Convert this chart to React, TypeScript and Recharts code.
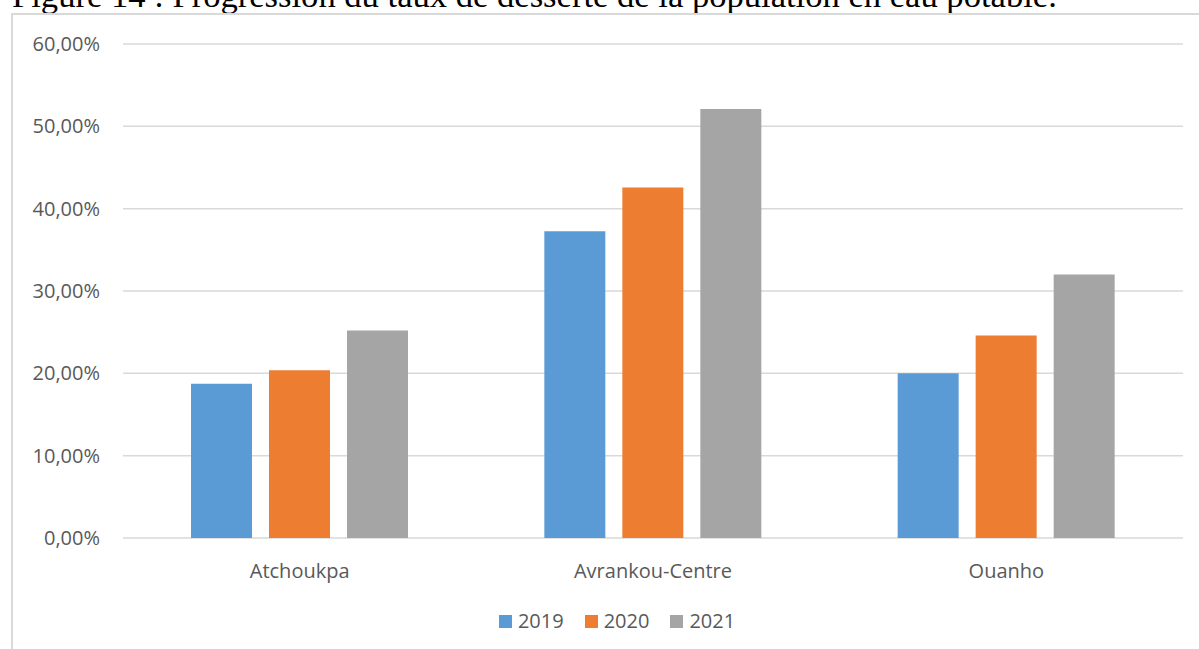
import React from 'react';
import { BarChart, Bar, XAxis, YAxis, CartesianGrid, Legend } from 'recharts';

const categories = ['Atchoukpa', 'Avrankou-Centre', 'Ouanho'];
const values2019 = [18.75, 37.25, 20.0];
const values2020 = [20.37, 42.56, 24.58];
const values2021 = [25.19, 52.11, 32.0];
const yTicks = [0, 10, 20, 30, 40, 50, 60];
const seriesNames = ['2019', '2020', '2021'];
const seriesColors = ['#5B9BD5', '#ED7D31', '#A5A5A5'];
const titleText = 'Figure 14 : Progression du taux de desserte de la population en eau potable.';

const data = categories.map((c, i) => ({
  name: c,
  '2019': values2019[i],
  '2020': values2020[i],
  '2021': values2021[i],
}));

const fmt = (v: number) => `${v.toFixed(2).replace('.', ',')}%`;
const font = "'Open Sans', sans-serif";
const textColor = '#595959';

const LegendContent = () => (
  <div
    style={{
      display: 'flex',
      justifyContent: 'center',
      alignItems: 'center',
      height: 24,
      fontFamily: font,
      fontSize: 20,
      color: textColor,
    }}
  >
    {seriesNames.map((n, i) => (
      <div
        key={n}
        style={{ display: 'flex', alignItems: 'center', marginRight: i < seriesNames.length - 1 ? 21 : 0 }}
      >
        <div style={{ width: 13, height: 13, background: seriesColors[i], marginRight: 6 }} />
        <span style={{ lineHeight: '24px' }}>{n}</span>
      </div>
    ))}
  </div>
);

export default function App() {
  return (
    <div
      style={{
        position: 'fixed',
        left: 0,
        top: 0,
        width: 1199,
        height: 649,
        overflow: 'hidden',
        background: '#ffffff',
      }}
    >
      <svg width={1199} height={20} style={{ position: 'absolute', left: 0, top: 0 }}>
        <text x={12} y={6.5} fontSize={34.6} fontFamily="'Liberation Serif', serif" fill="#000000">
          {titleText}
        </text>
      </svg>
      <div
        style={{
          position: 'absolute',
          left: 11,
          top: 13,
          width: 1300,
          height: 800,
          borderTop: '2px solid #d9d9d9',
          borderLeft: '2px solid #d9d9d9',
          boxSizing: 'border-box',
        }}
      />
      <div style={{ position: 'absolute', left: 12, top: 14 }}>
        <BarChart
          width={1210}
          height={635}
          data={data}
          margin={{ top: 30, right: 39, bottom: 16, left: 0 }}
          barSize={61}
          barGap={17}
        >
          <CartesianGrid vertical={false} stroke="#d9d9d9" strokeWidth={1.5} />
          <XAxis
            dataKey="name"
            axisLine={false}
            tickLine={false}
            tickSize={0}
            tickMargin={26}
            height={71}
            interval={0}
            tick={{ fill: textColor, fontSize: 20, fontFamily: font }}
          />
          <YAxis
            domain={[0, 60]}
            ticks={yTicks}
            tickFormatter={fmt}
            axisLine={false}
            tickLine={false}
            tickSize={0}
            tickMargin={23}
            width={111}
            interval={0}
            tick={{ fill: textColor, fontSize: 20, fontFamily: font }}
          />
          <Legend
            verticalAlign="bottom"
            content={<LegendContent />}
            wrapperStyle={{ left: 0, width: 1210 }}
          />
          {seriesNames.map((n, i) => (
            <Bar key={n} dataKey={n} fill={seriesColors[i]} isAnimationActive={false} />
          ))}
        </BarChart>
      </div>
    </div>
  );
}
